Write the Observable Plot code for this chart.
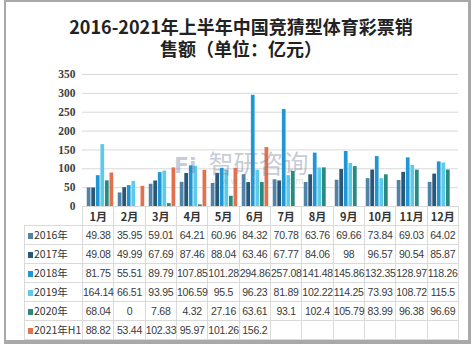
<!DOCTYPE html>
<html><head><meta charset="utf-8">
<script src="https://cdn.jsdelivr.net/npm/d3@7"></script>
<script src="https://cdn.jsdelivr.net/npm/@observablehq/plot@0.6"></script>
<style>
body{margin:0;width:474px;height:344px;position:relative;background:#fff;overflow:hidden;font-family:"Noto Sans CJK SC",sans-serif}
#frame{position:absolute;left:4px;top:0;width:462px;height:338px;border:2px solid #a9a9a9;border-right-width:3px;border-bottom-width:4px;box-sizing:content-box}
#title{position:absolute;left:4px;top:15px;width:474px;text-align:center;font-family:"Noto Sans CJK SC",sans-serif;font-weight:600;font-size:18px;line-height:22px;color:#222}
#chart{position:absolute;left:0;top:60px;z-index:2}
#tbl{position:absolute;left:24px;top:206px;border-collapse:collapse;table-layout:fixed;z-index:1}
#tbl td{border:1px solid #dadada;padding:0;text-align:center;white-space:nowrap;overflow:visible;height:18px;font-family:"Liberation Sans",Arial,sans-serif;font-size:10.5px;letter-spacing:-0.25px;color:#3a3a3a;line-height:18px}
#tbl tr.hdr td{font-family:"Noto Sans CJK SC",sans-serif;font-weight:700;font-size:11px;letter-spacing:0;color:#333;height:17px}
#tbl tr.hdr td.blank{border:none}
#tbl td.lab{text-align:left;font-family:"Noto Sans CJK SC",sans-serif;font-size:10.5px;letter-spacing:0;padding-left:3px;color:#333}
.key{display:inline-block;width:5px;height:6px;margin-right:1px;vertical-align:0px}
#wm{position:absolute;left:174px;top:144px;z-index:3;color:rgba(110,122,145,0.40);font-size:25px;font-family:"Noto Sans CJK SC",sans-serif;pointer-events:none;white-space:nowrap}
#wm .logo{display:inline-block;font-family:"DejaVu Sans";font-weight:bold;font-size:22px;margin-right:12px;color:rgba(90,110,150,0.35)}
#wm .url{position:absolute;left:38px;top:30px;font-size:9px;letter-spacing:2px;color:rgba(110,122,145,0.28)}
</style></head>
<body>
<div id="frame"></div>
<div id="title">2016-2021年上半年中国竞猜型体育彩票销<br>售额（单位：亿元）</div>
<div id="chart"></div>
<table id="tbl"></table>
<div id="wm"><span class="logo">Fi</span>智研咨询<span class="url">www.chyxx.com</span></div>
<script>
const months = ["1月","2月","3月","4月","5月","6月","7月","8月","9月","10月","11月","12月"];
const seriesNames = ["2016年","2017年","2018年","2019年","2020年","2021年H1"];
const v2016 = [49.38,35.95,59.01,64.21,60.96,84.32,70.78,63.76,69.66,73.84,69.03,64.02];
const v2017 = [49.08,49.99,67.69,87.46,88.04,63.46,67.77,84.06,98,96.57,90.54,85.87];
const v2018 = [81.75,55.51,89.79,107.85,101.28,294.86,257.08,141.48,145.86,132.35,128.97,118.26];
const v2019 = [164.14,66.51,93.95,106.59,95.5,96.23,81.89,102.22,114.25,73.93,108.72,115.5];
const v2020 = [68.04,0,7.68,4.32,27.16,63.61,93.1,102.4,105.79,83.99,96.38,96.69];
const v2021 = [88.82,53.44,102.33,95.97,101.26,156.2];
const yTicks = [0,50,100,150,200,250,300,350];
const seriesColors = ["#4f84a8","#2a5677","#1f97d6","#5ccbe9","#2b8a80","#e2714f"];

const allValues = [v2016,v2017,v2018,v2019,v2020,v2021];

const marginLeft = 82, marginRight = 16, width = 474;
const band = (width - marginLeft - marginRight) / months.length;
const padL = 2.5, padR = 1.5;
const bw = (band - padL - padR) / seriesNames.length;

const marks = [
  Plot.ruleY(yTicks, {stroke:"#d9d9d9", strokeWidth:1})
];
allValues.forEach((vals, i) => {
  const data = vals.map((v, j) => ({month: months[j], value: v}));
  marks.push(Plot.barY(data, {
    x: "month", y: "value", fill: seriesColors[i],
    insetLeft: padL + i * bw + 0.25,
    insetRight: band - padL - (i + 1) * bw + 0.25
  }));
});

const chart = Plot.plot({
  width, height: 152,
  marginLeft, marginRight, marginTop: 14, marginBottom: 6,
  style: {fontFamily: "'Liberation Serif', serif", fontSize: "11.5px", fontWeight: "bold", color: "#404040", background: "transparent", overflow: "visible"},
  x: {domain: months, padding: 0, axis: null},
  y: {domain: [0, 350], ticks: yTicks, tickSize: 0, tickPadding: 7, label: null},
  marks
});
document.getElementById("chart").appendChild(chart);

// data table
const labW = 58;
const tbl = document.getElementById("tbl");
tbl.style.width = (labW + band * months.length) + "px";
const cg = document.createElement("colgroup");
const c0 = document.createElement("col"); c0.style.width = labW + "px"; cg.appendChild(c0);
months.forEach(() => { const c = document.createElement("col"); c.style.width = band + "px"; cg.appendChild(c); });
tbl.appendChild(cg);
const hdr = document.createElement("tr"); hdr.className = "hdr";
const b = document.createElement("td"); b.className = "blank"; hdr.appendChild(b);
months.forEach(m => { const td = document.createElement("td"); td.textContent = m; hdr.appendChild(td); });
tbl.appendChild(hdr);
seriesNames.forEach((s, i) => {
  const tr = document.createElement("tr");
  const lab = document.createElement("td"); lab.className = "lab";
  const k = document.createElement("span"); k.className = "key"; k.style.background = seriesColors[i];
  lab.appendChild(k); lab.appendChild(document.createTextNode(s));
  tr.appendChild(lab);
  months.forEach((m, j) => {
    const td = document.createElement("td");
    const v = allValues[i][j];
    td.textContent = v === undefined ? "" : String(v);
    tr.appendChild(td);
  });
  tbl.appendChild(tr);
});
</script>
</body></html>
